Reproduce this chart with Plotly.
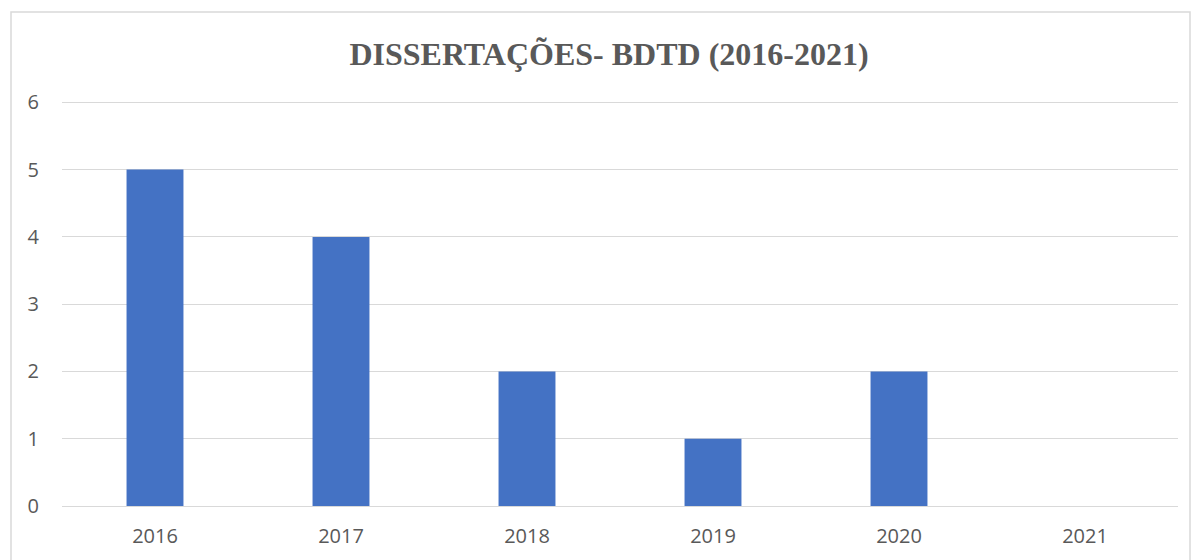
import plotly.graph_objects as go

years = ["2016", "2017", "2018", "2019", "2020", "2021"]
counts = [5, 4, 2, 1, 2, 0]
title_text = "DISSERTAÇÕES- BDTD (2016-2021)"

W, H = 1194, 560
L, R, T, B = 62, 16, 101, 54
pw, ph = W - L - R, H - T - B

fig = go.Figure(go.Bar(x=years, y=counts, marker_color="#4472C4", marker_line_width=0))

fig.update_layout(
    width=W, height=H,
    margin=dict(l=L, r=R, t=T, b=B),
    paper_bgcolor="white", plot_bgcolor="white",
    bargap=0.694,
    showlegend=False,
    title=dict(text="<b>" + title_text + "</b>", x=(609 - L) / pw, xref="paper", xanchor="center",
               y=1 - 54 / H, yanchor="middle",
               font=dict(family="Liberation Serif", size=32, color="#595959")),
    font=dict(family="Open Sans", size=20, color="#595959"),
    xaxis=dict(showgrid=False, showline=False, ticks="", ticklabelstandoff=16,
               tickfont=dict(size=20, color="#595959")),
    yaxis=dict(range=[0, 6.02], tickvals=[0, 1, 2, 3, 4, 5, 6], showgrid=True, gridcolor="#d9d9d9", gridwidth=1,
               zeroline=True, zerolinecolor="#d9d9d9", zerolinewidth=1, showline=False,
               ticks="", ticklabelstandoff=22, tickfont=dict(size=20, color="#595959")),
    shapes=[dict(type="rect", xref="paper", yref="paper",
                 x0=(11 - L) / pw, x1=(1190 - L) / pw,
                 y0=(H - 580 - B) / ph, y1=(H - 12 - B) / ph,
                 line=dict(color="#d9d9d9", width=1.5), fillcolor="rgba(0,0,0,0)", layer="below")],
)

fig.write_html("out.html")
